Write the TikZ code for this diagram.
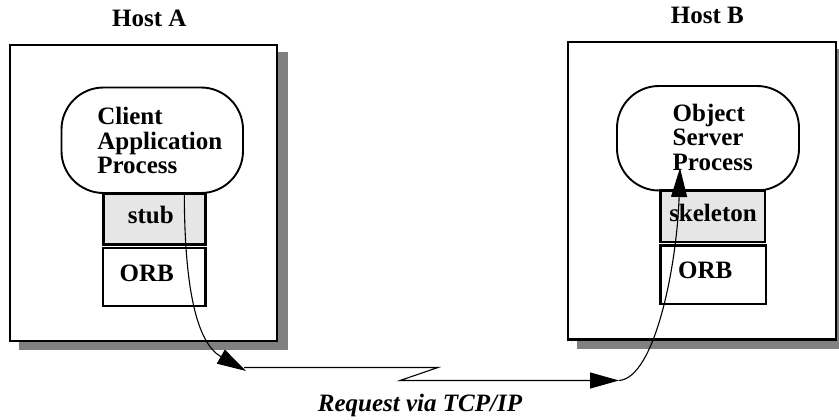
\documentclass[tikz,border=0pt]{standalone}
\usepackage{fontspec}
\setmainfont{Liberation Serif}
\usetikzlibrary{arrows.meta}
\definecolor{shadowgray}{HTML}{808080}
\definecolor{stubgray}{HTML}{E6E6E6}
\begin{document}
\begin{tikzpicture}[x=1pt,y=-1pt,
  hostbox/.style={draw, line width=2.3pt, fill=white, inner sep=0pt, outer sep=0pt},
  hostshadow/.style={fill=shadowgray},
  procbox/.style={draw, line width=1.9pt, fill=white, rounded corners=42pt, inner sep=0pt, outer sep=0pt},
  layerbox/.style={draw, line width=2.3pt, inner sep=0pt, outer sep=0pt},
  bigtext/.style={font=\fontsize{25}{24.5}\selectfont\bfseries, inner sep=0pt, outer sep=0pt},
  wire/.style={line width=1.1pt},
  bigtip/.style={-{Triangle[length=29pt,width=16pt]}}
]
\useasboundingbox (0,0) rectangle (839,420);

% drop shadows behind the two hosts
\fill[hostshadow] (19.15,51.55) rectangle (288.45,350.45);
\fill[hostshadow] (576.55,48.55) rectangle (847.45,348.65);

% host frames
\node[hostbox, minimum width=267pt, minimum height=296.6pt] (hostA) at (143.8,193) {};
\node[hostbox, minimum width=268.6pt, minimum height=297.8pt] (hostB) at (702,190.6) {};
\node[bigtext, anchor=base] (hostAlbl) at (149.4,26.7) {Host A};
\node[bigtext, anchor=base] (hostBlbl) at (707.3,24) {Host B};

% processes
\node[procbox, minimum width=181.5pt, minimum height=105.5pt] (client) at (152.25,140.25) {};
\node[procbox, minimum width=182pt, minimum height=104.5pt] (server) at (708,138.25) {};
\node[bigtext, anchor=base west] (clientlbl) at (97.3,124.5)
  {\begin{tabular}[t]{@{}l@{}}Client\\Application\\Process\end{tabular}};
\node[bigtext, anchor=base west] (serverlbl) at (672.7,121.5)
  {\begin{tabular}[t]{@{}l@{}}Object\\Server\\Process\end{tabular}};

% stub / skeleton and ORB layers
\node[layerbox, fill=stubgray, minimum width=102pt, minimum height=51pt] (stub) at (154.5,219) {};
\node[layerbox, fill=white, minimum width=102.5pt, minimum height=58pt] (orbA) at (154.25,277) {};
\node[layerbox, fill=stubgray, minimum width=104.5pt, minimum height=51.5pt] (skel) at (712.75,216.25) {};
\node[layerbox, fill=white, minimum width=105.5pt, minimum height=58.5pt] (orbB) at (713.25,274.75) {};
\node[bigtext, anchor=base] (stublbl) at (150.8,223.3) {stub};
\node[bigtext, anchor=base] (skellbl) at (713,221.7) {skeleton};
\node[bigtext, anchor=base] (orbAlbl) at (146.7,281.7) {ORB};
\node[bigtext, anchor=base] (orbBlbl) at (705.3,278.3) {ORB};

% request path
\coordinate (sA) at (184.3,193);
\coordinate (tA) at (246,371);
\coordinate (wA) at (244,367.5);
\coordinate (z1) at (438,367.5);
\coordinate (z2) at (400,380.5);
\coordinate (wB) at (619,380.5);
\coordinate (tB) at (680,168);

\draw[wire, bigtip] (sA) .. controls (184.5,290) and (197,343) .. (tA);
\draw[wire, bigtip] (wA) -- (z1) -- (z2) -- (wB);
\draw[wire, bigtip] (wB) .. controls (655,378) and (677,265) .. (tB);

\node[bigtext, font=\fontsize{25}{24.5}\selectfont\bfseries\itshape, anchor=base] (req) at (420,411) {Request via TCP/IP};
\end{tikzpicture}
\end{document}
